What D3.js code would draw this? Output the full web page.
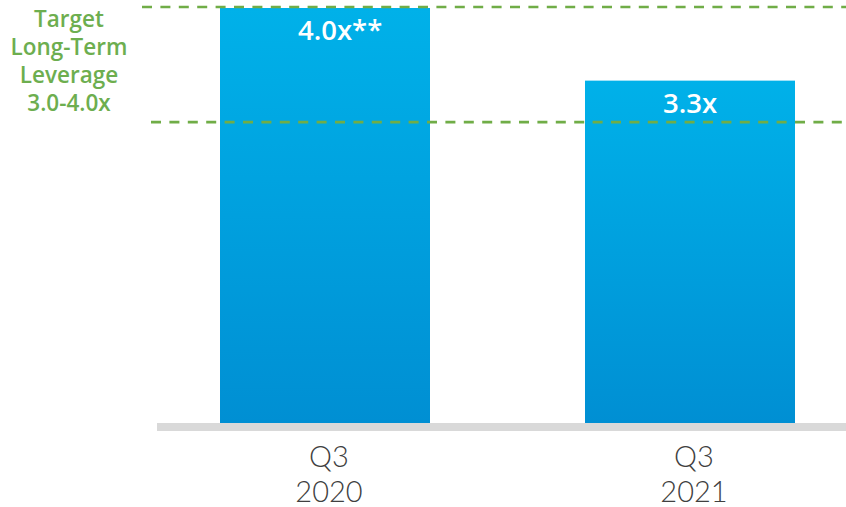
<!DOCTYPE html>
<html>
<head>
<meta charset="utf-8">
<script src="https://cdn.jsdelivr.net/npm/d3@7/dist/d3.min.js"></script>
<style>
  html, body { margin: 0; padding: 0; background: #fff; }
  svg { display: block; }
</style>
</head>
<body>
<svg id="chart" width="846" height="507"></svg>
<script>
// ---- data ----
const categories = ["Q3\n2020", "Q3\n2021"];
const values = [4.0, 3.3];
const valueLabels = ["4.0x", "3.3x"];
const labelSuffixes = ["**", ""];
const targetLines = [4.01, 2.9];
const targetLabel = ["Target", "Long-Term", "Leverage", "3.0-4.0x"];

// ---- layout ----
const W = 846, H = 507;
const baseY = 423;
const svg = d3.select("#chart");

// bars at 220-430 and 585-795 (width 210, gap 155)
const xb = d3.scaleBand().domain(categories).range([220, 795])
  .paddingInner(155 / 365).paddingOuter(0);
const y = d3.scaleLinear().domain([0, 4.0]).range([baseY, 8]);

const defs = svg.append("defs");
const grad = defs.append("linearGradient").attr("id", "barGrad")
  .attr("x1", 0).attr("y1", 0).attr("x2", 0).attr("y2", 1);
grad.append("stop").attr("offset", "0%").attr("stop-color", "#00B1E9");
grad.append("stop").attr("offset", "100%").attr("stop-color", "#008FD3");

// bars
svg.selectAll("rect.bar").data(values).join("rect")
  .attr("class", "bar")
  .attr("x", (d, i) => xb(categories[i]))
  .attr("width", xb.bandwidth())
  .attr("y", d => y(d))
  .attr("height", d => baseY - y(d))
  .attr("fill", "url(#barGrad)");

// baseline band
svg.append("rect")
  .attr("x", 157).attr("y", baseY).attr("width", W - 157).attr("height", 8)
  .attr("fill", "#D9D9D9");

// target dashed lines
const lineStarts = [142, 151];
svg.selectAll("line.target").data(targetLines).join("line")
  .attr("class", "target")
  .attr("x1", (d, i) => lineStarts[i]).attr("x2", W)
  .attr("y1", d => y(d)).attr("y2", d => y(d))
  .attr("stroke", "#70AD47")
  .attr("stroke-width", 2.6)
  .attr("stroke-dasharray", "10,8.4");

// target label
const tl = svg.append("text")
  .attr("font-family", "'Open Sans', sans-serif")
  .attr("font-weight", 600)
  .attr("font-size", 22.5)
  .attr("fill", "#6DAE4F")
  .attr("text-anchor", "middle");
tl.selectAll("tspan").data(targetLabel).join("tspan")
  .attr("x", 69)
  .attr("y", (d, i) => 27 + i * 28)
  .text(d => d);

// value labels (main part centered, suffix appended)
values.forEach((v, i) => {
  const cx = xb(categories[i]) + xb.bandwidth() / 2;
  const t = svg.append("text")
    .attr("font-family", "'Open Sans', sans-serif")
    .attr("font-weight", 600)
    .attr("font-size", 27.5)
    .attr("fill", "#fff")
    .attr("y", y(v) + 32);
  const main = t.append("tspan").text(valueLabels[i]);
  const w = main.node().getComputedTextLength();
  t.attr("x", cx - w / 2);
  if (labelSuffixes[i]) t.append("tspan").text(labelSuffixes[i]);
});

// category labels
categories.forEach((c, i) => {
  const cx = xb(c) + xb.bandwidth() / 2 + 4;
  const t = svg.append("text")
    .attr("font-family", "Lato, sans-serif")
    .attr("font-weight", 300)
    .attr("font-size", 29)
    .attr("fill", "#404040")
    .attr("text-anchor", "middle");
  c.split("\n").forEach((line, j) => {
    t.append("tspan").attr("x", cx).attr("y", 467 + j * 35).text(line);
  });
});
</script>
</body>
</html>
